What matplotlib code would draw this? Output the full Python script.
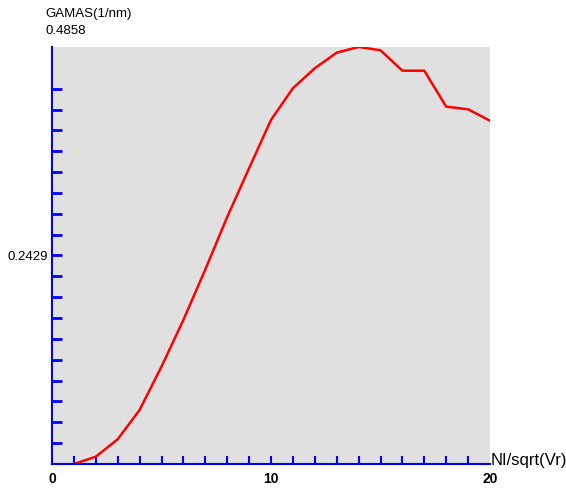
import numpy as np
import matplotlib
matplotlib.use("Agg")
import matplotlib.pyplot as plt
from matplotlib.ticker import FixedLocator, NullFormatter

# values
ni_sqrt_vr = [1, 2, 3, 4, 5, 6, 7, 8, 9, 10,
              11, 12, 13, 14, 15, 16, 17, 18, 19, 20]
gamas = [0.0, 0.0085, 0.0288, 0.0629, 0.1134, 0.1678, 0.2265, 0.2877, 0.3445, 0.4008,
         0.4377, 0.4610, 0.4792, 0.4858, 0.4820, 0.4582, 0.4582, 0.4163, 0.4132, 0.3999]
y_max = 0.4858
x_label_pos = [0, 10, 20]
x_labels = ["0", "10", "20"]
y_label_mid = "0.2429"

plt.rcParams['font.family'] = ['Liberation Sans', 'DejaVu Sans']

fig = plt.figure(figsize=(5.66, 4.90), dpi=100)
ax = fig.add_axes([52 / 566, (490 - 464) / 490, 438 / 566, 417 / 490])
ax.set_facecolor('#e0e0e0')

ax.plot(ni_sqrt_vr, gamas, color='red', lw=1.8, solid_joinstyle='round')

ax.set_xlim(0, 20)
ax.set_ylim(0, y_max)

for s in ['top', 'right']:
    ax.spines[s].set_visible(False)
for s in ['left', 'bottom']:
    ax.spines[s].set_color('blue')
    ax.spines[s].set_linewidth(1.5)

# x: tick marks at 1..19, labels at 0/10/20 written as text
ax.xaxis.set_major_locator(FixedLocator(list(range(1, 20))))
ax.xaxis.set_major_formatter(NullFormatter())
ax.tick_params(axis='x', which='major', direction='in', color='blue',
               length=6, width=1.5)
for xp, lab in zip(x_label_pos, x_labels):
    ax.text(xp, -0.035, lab, transform=ax.get_xaxis_transform(),
            ha='center', va='center', fontsize=10, fontweight='bold')

# y: ticks at 1..18 twentieths, label only at the middle
ax.yaxis.set_major_locator(FixedLocator([y_max / 2]))
ax.yaxis.set_minor_locator(FixedLocator([y_max * i / 20 for i in range(1, 19) if i != 10]))
ax.set_yticklabels([y_label_mid], fontsize=9.5)
ax.tick_params(axis='y', which='both', direction='in', color='blue',
               length=7.5, width=2)
ax.tick_params(axis='y', which='major', pad=3)

fig.text(45 / 566, 1 - 14.5 / 490, "GAMAS(1/nm)", fontsize=9.5, va='center')
fig.text(45 / 566, 1 - 30.5 / 490, "0.4858", fontsize=9.5, va='center')
fig.text(491 / 566, 1 - 460 / 490, "NI/sqrt(Vr)", fontsize=12, va='center')

fig.savefig("out.png", dpi=100)
